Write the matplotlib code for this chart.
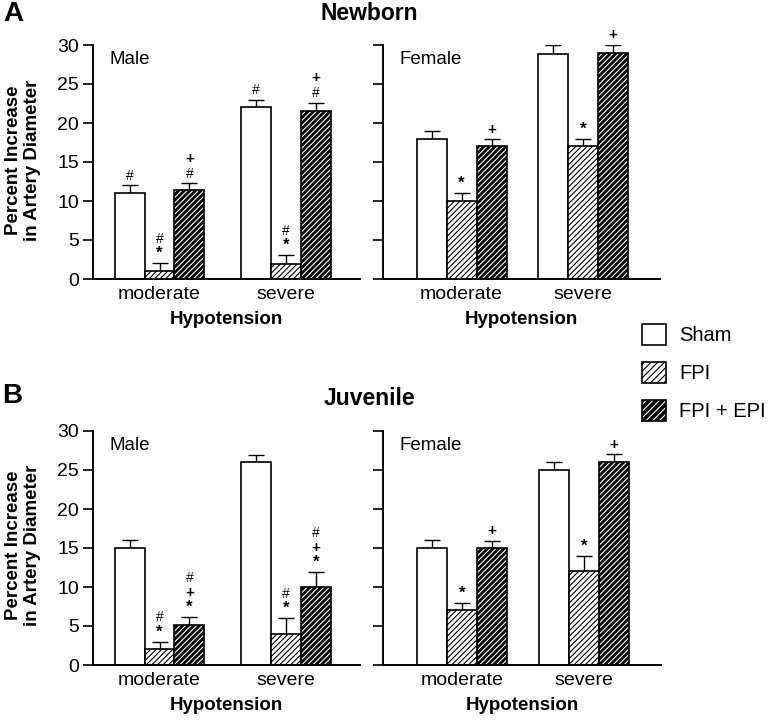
import matplotlib
matplotlib.use("Agg")
import matplotlib.pyplot as plt
from matplotlib.patches import Patch
from matplotlib.legend_handler import HandlerTuple
import numpy as np

plt.rcParams["font.family"] = ["Liberation Sans", "DejaVu Sans"]
plt.rcParams["hatch.linewidth"] = 0.8

groups = ["moderate", "severe"]
series = ["Sham", "FPI", "FPI + EPI"]

# rows: Sham, FPI, FPI + EPI ; columns: moderate, severe
newborn_male = [[11, 22], [1, 1.9], [11.35, 21.5]]
newborn_male_err = [[1, 1], [1, 1.15], [0.9, 1.1]]
newborn_male_marks = [["#", "#"], ["*#", "*#"], ["#+", "#+"]]

newborn_female = [[17.9, 28.9], [10, 17], [17, 29]]
newborn_female_err = [[1.1, 1.1], [1, 1], [0.9, 1]]
newborn_female_marks = [["", ""], ["*", "*"], ["+", "+"]]

juvenile_male = [[15, 26], [2, 4], [5.1, 10]]
juvenile_male_err = [[1, 0.95], [1, 2], [1.05, 1.9]]
juvenile_male_marks = [["", ""], ["*#", "*#"], ["*+#", "*+#"]]

juvenile_female = [[15, 25], [7, 12], [15, 26]]
juvenile_female_err = [[1, 1], [1, 2], [0.95, 1]]
juvenile_female_marks = [["", ""], ["*", "*"], ["+", "+"]]

W, H = 771, 723
fig = plt.figure(figsize=(W / 100, H / 100), dpi=100)

HATCH = "//////"
MARK_SIZE = {"#": 10, "*": 12, "+": 11}
MARK_WEIGHT = {"#": "normal", "*": "bold", "+": "bold"}


def px_axes(x0, x1, ytop, ybot):
    return fig.add_axes([x0 / W, 1 - ybot / H, (x1 - x0) / W, (ybot - ytop) / H])


def draw_panel(ax, vals, errs, marks, sex, xlim, width):
    x = np.arange(len(groups))
    offsets = [-width, 0, width]
    for i in range(3):
        xs = x + offsets[i]
        if i == 0:
            ax.bar(xs, vals[i], width, color="white", edgecolor="black", lw=1.2, zorder=2)
        elif i == 1:
            ax.bar(xs, vals[i], width, color="white", edgecolor="black", hatch=HATCH, lw=0, zorder=2)
            ax.bar(xs, vals[i], width, fill=False, edgecolor="black", lw=1.2, zorder=3)
        else:
            ax.bar(xs, vals[i], width, color="black", edgecolor="white", hatch=HATCH, lw=0, zorder=2)
            ax.bar(xs, vals[i], width, fill=False, edgecolor="black", lw=1.2, zorder=3)
        ax.errorbar(xs, vals[i], yerr=[np.zeros(len(groups)), errs[i]], fmt="none",
                    ecolor="black", elinewidth=1.0, capsize=6, capthick=1.0, zorder=1)
        for j in range(len(groups)):
            top = vals[i][j] + errs[i][j]
            for k, m in enumerate(marks[i][j]):
                ax.annotate(m, (xs[j], top), xytext=(0, 7 + 10.5 * k), textcoords="offset points",
                            ha="center", va="center", fontsize=MARK_SIZE[m],
                            fontweight=MARK_WEIGHT[m])
    ax.set_xlim(*xlim)
    ax.set_ylim(0, 30)
    ax.set_yticks(range(0, 31, 5))
    ax.set_xticks(x)
    ax.set_xticklabels(groups, fontsize=14)
    ax.tick_params(axis="x", length=0, pad=5)
    ax.tick_params(axis="y", direction="out", length=7, width=1.2, labelsize=14, pad=3)
    for s in ["top", "right"]:
        ax.spines[s].set_visible(False)
    for s in ["left", "bottom"]:
        ax.spines[s].set_linewidth(1.4)
    ax.text(0.06, 0.94, sex, transform=ax.transAxes, fontsize=13.5, va="center", ha="left")
    ax.set_xlabel("Hypotension", fontsize=13.5, fontweight="bold", labelpad=6)


male_xlim = (-0.526, 1.585)
female_xlim = (-0.647, 1.634)

ax1 = px_axes(93, 360, 45, 279)
draw_panel(ax1, newborn_male, newborn_male_err, newborn_male_marks, "Male", male_xlim, 0.236)
ax2 = px_axes(383, 660, 45, 279)
draw_panel(ax2, newborn_female, newborn_female_err, newborn_female_marks, "Female", female_xlim, 0.247)
ax2.set_yticklabels([])
ax3 = px_axes(93, 360, 431, 665)
draw_panel(ax3, juvenile_male, juvenile_male_err, juvenile_male_marks, "Male", male_xlim, 0.236)
ax4 = px_axes(383, 661, 431, 665)
draw_panel(ax4, juvenile_female, juvenile_female_err, juvenile_female_marks, "Female", female_xlim, 0.247)
ax4.set_yticklabels([])

for yc in [160, 545]:
    fig.text(23 / W, 1 - yc / H, "Percent Increase\nin Artery Diameter", rotation=90,
             ha="center", va="center", fontsize=13.5, fontweight="bold", linespacing=1.1)

fig.text(3 / W, 1 - 14 / H, "A", fontsize=20, fontweight="bold", va="center", ha="left")
fig.text(369 / W, 1 - 13 / H, "Newborn", fontsize=16.5, fontweight="bold", va="center", ha="center")
fig.text(2 / W, 1 - 396 / H, "B", fontsize=20, fontweight="bold", va="center", ha="left")
fig.text(369 / W, 1 - 398 / H, "Juvenile", fontsize=16.5, fontweight="bold", va="center", ha="center")

handles = [
    Patch(facecolor="white", edgecolor="black", lw=1.2),
    (Patch(facecolor="white", edgecolor="black", hatch="/////", lw=0),
     Patch(fill=False, edgecolor="black", lw=1.2)),
    (Patch(facecolor="black", edgecolor="white", hatch="/////", lw=0),
     Patch(fill=False, edgecolor="black", lw=1.2)),
]
fig.legend(handles, series, loc="upper left", bbox_to_anchor=(642 / W, 1 - 324 / H),
           frameon=False, fontsize=14.5, handlelength=1.2, handleheight=1.2,
           handletextpad=0.65, labelspacing=0.84, borderpad=0, borderaxespad=0,
           handler_map={tuple: HandlerTuple(ndivide=1, pad=0)})

fig.savefig("out.png", dpi=100)
